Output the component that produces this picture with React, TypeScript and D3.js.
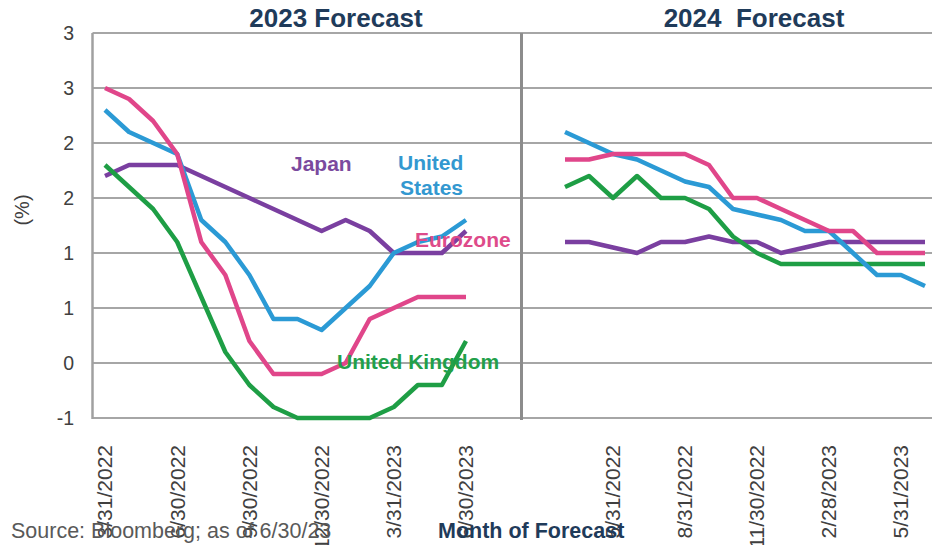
import React from "react";
import * as d3 from "d3";

// ---- Data ----
const months = [
  "3/31/2022", "4/29/2022", "5/31/2022", "6/30/2022", "7/29/2022", "8/31/2022",
  "9/30/2022", "10/31/2022", "11/30/2022", "12/30/2022", "1/31/2023", "2/28/2023",
  "3/31/2023", "4/28/2023", "5/31/2023", "6/30/2023",
];
const leftLabelIdx = [0, 3, 6, 9, 12, 15];
const rightLabelIdx = [2, 5, 8, 11, 14];

const yTicks = [-0.5, 0, 0.5, 1, 1.5, 2, 2.5, 3];
const yTickLabels = ["-1", "0", "1", "1", "2", "2", "3", "3"];

// 2023 forecast
const us2023 = [2.3, 2.1, 2.0, 1.9, 1.3, 1.1, 0.8, 0.4, 0.4, 0.3, 0.5, 0.7, 1.0, 1.1, 1.15, 1.3];
const ez2023 = [2.5, 2.4, 2.2, 1.9, 1.1, 0.8, 0.2, -0.1, -0.1, -0.1, 0.0, 0.4, 0.5, 0.6, 0.6, 0.6];
const jp2023 = [1.7, 1.8, 1.8, 1.8, 1.7, 1.6, 1.5, 1.4, 1.3, 1.2, 1.3, 1.2, 1.0, 1.0, 1.0, 1.2];
const uk2023 = [1.8, 1.6, 1.4, 1.1, 0.6, 0.1, -0.2, -0.4, -0.5, -0.5, -0.5, -0.5, -0.4, -0.2, -0.2, 0.2];

// 2024 forecast
const us2024 = [2.1, 2.0, 1.9, 1.85, 1.75, 1.65, 1.6, 1.4, 1.35, 1.3, 1.2, 1.2, 1.0, 0.8, 0.8, 0.7];
const ez2024 = [1.85, 1.85, 1.9, 1.9, 1.9, 1.9, 1.8, 1.5, 1.5, 1.4, 1.3, 1.2, 1.2, 1.0, 1.0, 1.0];
const jp2024 = [1.1, 1.1, 1.05, 1.0, 1.1, 1.1, 1.15, 1.1, 1.1, 1.0, 1.05, 1.1, 1.1, 1.1, 1.1, 1.1];
const uk2024 = [1.6, 1.7, 1.5, 1.7, 1.5, 1.5, 1.4, 1.15, 1.0, 0.9, 0.9, 0.9, 0.9, 0.9, 0.9, 0.9];

const COLORS = {
  us: "#2B9AD5",
  ez: "#E0468A",
  jp: "#7A3FA0",
  uk: "#1E9E45",
};
const NAVY = "#1F3B5A";
const FONT = "'Liberation Sans', Arial, sans-serif";

export default function App() {
  const W = 932;
  const H = 545;
  const y = d3.scaleLinear().domain([-0.5, 3.0]).range([418, 33]);
  const xL = d3.scalePoint<number>().domain(d3.range(months.length)).range([105, 466]);
  const xR = d3.scalePoint<number>().domain(d3.range(months.length)).range([565, 925]);

  const mkLine = (x: d3.ScalePoint<number>) =>
    d3.line<number>().x((_, i) => x(i) as number).y((d) => y(d));
  const lineL = mkLine(xL);
  const lineR = mkLine(xR);

  const leftSeries = [
    { v: jp2023, c: COLORS.jp },
    { v: uk2023, c: COLORS.uk },
    { v: us2023, c: COLORS.us },
    { v: ez2023, c: COLORS.ez },
  ];
  const rightSeries = [
    { v: jp2024, c: COLORS.jp },
    { v: uk2024, c: COLORS.uk },
    { v: us2024, c: COLORS.us },
    { v: ez2024, c: COLORS.ez },
  ];

  const plotLeft = 92.5;
  const plotRight = 932;
  const divider = 521.5;

  return (
    <svg
      width={W}
      height={H}
      style={{ position: "absolute", left: 0, top: 0, background: "#fff" }}
      fontFamily={FONT}
    >
      <rect x={0} y={0} width={W} height={H} fill="#fff" />
      {/* gridlines */}
      {yTicks.map((t) => (
        <line
          key={t}
          x1={plotLeft}
          x2={plotRight}
          y1={y(t)}
          y2={y(t)}
          stroke="#A6A6A6"
          strokeWidth={2}
        />
      ))}
      {/* left axis line */}
      <line x1={plotLeft} x2={plotLeft} y1={y(3)} y2={y(-0.5) + 1} stroke="#A0A0A0" strokeWidth={2.5} />
      {/* divider */}
      <line x1={divider} x2={divider} y1={y(3)} y2={y(-0.5) + 2} stroke="#8C8C8C" strokeWidth={3} />

      {/* y tick labels */}
      {yTicks.map((t, i) => (
        <text
          key={"yl" + t}
          x={74}
          y={y(t)}
          dy="0.35em"
          textAnchor="end"
          fontSize={19.5}
          fill="#404040"
        >
          {yTickLabels[i]}
        </text>
      ))}
      <text
        transform={`translate(22,210) rotate(-90)`}
        textAnchor="middle"
        dy="0.35em"
        fontSize={20}
        fill="#404040"
      >
        (%)
      </text>

      {/* titles */}
      <text x={336} y={27} textAnchor="middle" fontSize={26} fontWeight="bold" fill={NAVY}>
        2023 Forecast
      </text>
      <text
        x={754}
        y={27}
        textAnchor="middle"
        fontSize={26}
        fontWeight="bold"
        fill={NAVY}
        style={{ whiteSpace: "pre" }}
      >
        {"2024  Forecast"}
      </text>

      {/* lines */}
      {leftSeries.map((s, i) => (
        <path
          key={"l" + i}
          d={lineL(s.v) || ""}
          fill="none"
          stroke={s.c}
          strokeWidth={4.5}
          strokeLinejoin="round"
        />
      ))}
      {rightSeries.map((s, i) => (
        <path
          key={"r" + i}
          d={lineR(s.v) || ""}
          fill="none"
          stroke={s.c}
          strokeWidth={4.5}
          strokeLinejoin="round"
        />
      ))}

      {/* series labels */}
      <text x={291} y={171} fontSize={21} fontWeight="bold" fill="#7B4A9E">
        Japan
      </text>
      <text x={398} y={170} fontSize={21} fontWeight="bold" fill="#3398D0">
        United
      </text>
      <text x={400} y={195} fontSize={21} fontWeight="bold" fill="#3398D0">
        States
      </text>
      <text x={415} y={247} fontSize={21} fontWeight="bold" fill="#DE4B8A">
        Eurozone
      </text>
      <text x={337} y={369} fontSize={21} fontWeight="bold" fill="#22A04A">
        United Kingdom
      </text>

      {/* x tick labels */}
      {leftLabelIdx.map((i) => (
        <text
          key={"xl" + i}
          transform={`translate(${xL(i)},445) rotate(-90)`}
          textAnchor="end"
          dy="0.35em"
          fontSize={21}
          fill="#404040"
        >
          {months[i]}
        </text>
      ))}
      {rightLabelIdx.map((i) => (
        <text
          key={"xr" + i}
          transform={`translate(${xR(i)},445) rotate(-90)`}
          textAnchor="end"
          dy="0.35em"
          fontSize={21}
          fill="#404040"
        >
          {months[i]}
        </text>
      ))}

      {/* footer */}
      <text x={11} y={538} fontSize={21.5} fill="#595959">
        Source: Bloomberg; as of 6/30/23
      </text>
      <text x={438} y={538} fontSize={21.5} fontWeight="bold" fill={NAVY}>
        Month of Forecast
      </text>
    </svg>
  );
}
